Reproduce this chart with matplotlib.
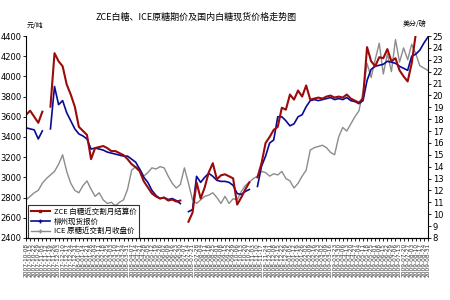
import matplotlib
matplotlib.use("Agg")
import matplotlib.pyplot as plt
from matplotlib.lines import Line2D
import numpy as np
import pandas as pd

plt.rcParams["font.family"] = ["Noto Sans CJK SC", "DejaVu Sans"]

nan = np.nan

# weekly samples, Oct 2007 - Aug 2009
dates = pd.date_range("2007-10-08", periods=100, freq="W-MON")
date_labels = [d.strftime("%Y-%m-%d") for d in dates]

zce_settle = [
    3620, 3660, 3600, 3540, 3650, nan, 3700, 4230, 4150, 4100,
    3920, 3820, 3700, 3500, 3460, 3420, 3180, 3290, 3300, 3310,
    3290, 3260, 3260, 3240, 3220, 3180, 3130, 3100, 3060, 2960,
    2900, 2840, 2810, 2790, 2800, 2770, 2780, 2760, 2770, nan,
    2560, 2650, 2950, 2790, 2900, 3050, 3140, 2980, 3020, 3030,
    3010, 2990, 2730, 2800, 2880, 2950, nan, 3000, 3140, 3340,
    3400, 3470, 3500, 3690, 3670, 3820, 3770, 3860, 3800, 3910,
    3770, 3780, 3790, 3780, 3800, 3810, 3790, 3800, 3790, 3820,
    3780, 3760, 3740, 3780, 4290, 4150, 4100, 4190, 4180, 4270,
    4150, 4180, 4060, 4000, 3950, 4130, 4420, nan, 4430, nan,
]

liuzhou_spot = [
    3490, 3480, 3470, 3380, 3460, nan, 3480, 3900, 3720, 3760,
    3640, 3560, 3480, 3430, 3410, 3380, 3280, 3290, 3280, 3270,
    3250, 3240, 3230, 3220, 3210, 3210, 3180, 3150, 3080, 3000,
    2950, 2870, 2820, 2790, 2800, 2780, 2790, 2770, 2740, nan,
    2660, 2680, 3010, 2950, 3000, 3040, 3010, 2970, 2960, 2960,
    2950, 2920, 2840, 2830, 2860, 2880, nan, 2910, 3110, 3210,
    3340, 3370, 3600, 3600, 3560, 3510, 3530, 3600, 3620, 3700,
    3760, 3770, 3760, 3770, 3780, 3790, 3770, 3780, 3770, 3790,
    3760, 3750, 3730, 3760, 3960, 4070, 4100, 4110, 4120, 4150,
    4140, 4130, 4100, 4080, 4060, 4200, 4220, 4260, 4330, 4390,
]

ice_close = [
    11.2, 11.5, 11.8, 12.0, 12.6, 13.0, 13.3, 13.6, 14.2, 15.0,
    13.6, 12.6, 12.0, 11.8, 12.4, 12.8, 12.1, 11.5, 11.8, 11.2,
    10.9, 11.0, 10.7, 11.0, 11.2, 12.1, 13.7, 14.0, 13.8, 13.2,
    13.5, 13.9, 13.8, 14.0, 13.9, 13.2, 12.6, 12.2, 12.5, 13.9,
    12.6, 11.2, 10.9, 11.2, 11.5, 11.6, 11.8, 11.4, 10.9, 11.5,
    10.9, 11.3, 11.2, 11.9, 12.4, 12.7, 13.0, 13.2, 13.6, 13.5,
    13.2, 13.4, 13.3, 13.6, 13.0, 12.8, 12.2, 12.6, 13.2, 13.7,
    15.4, 15.6, 15.7, 15.8, 15.6, 15.2, 15.0, 16.5, 17.3, 17.0,
    17.6, 18.2, 18.7, 20.3, 22.7, 21.5, 23.0, 24.4, 21.8, 23.5,
    22.0, 24.7, 22.8, 24.0, 23.0, 24.3, 23.5, 22.5, 22.3, 22.1,
]

series_names = ["ZCE 白糖近交割月结算价", "柳州现货报价", "ICE 原糖近交割月收盘价"]
title = "ZCE白糖、ICE原糖期价及国内白糖现货价格走势图"

red = "#9b0a0a"
blue = "#0a0a96"
gray = "#8c8c8c"
narrow = ["Liberation Sans Narrow", "DejaVu Sans"]

fig = plt.figure(figsize=(4.5, 3.0), dpi=100)
ax = fig.add_axes([0.058, 0.207, 0.893, 0.673])
ax2 = ax.twinx()

x = np.arange(len(dates))
ax2.plot(x, ice_close, color=gray, lw=1.0)
ax.plot(x, liuzhou_spot, color=blue, lw=1.2)
ax.plot(x, zce_settle, color=red, lw=1.5)
ax.set_zorder(ax2.get_zorder() + 1)
ax.patch.set_visible(False)

ax.set_xlim(0, len(dates) - 1)
ax.set_ylim(2400, 4400)
ax2.set_ylim(8, 25)
ax.set_yticks(np.arange(2400, 4401, 200))
ax2.set_yticks(np.arange(8, 26, 1))

ax.set_xticks(x)
ax.set_xticklabels(date_labels, rotation=90, fontsize=4.2, family="DejaVu Sans",
                   color="#333333")
for a in (ax, ax2):
    a.spines["top"].set_visible(False)
    a.tick_params(axis="both", length=2, width=0.6, pad=1.5)
    for s in a.spines.values():
        s.set_linewidth(0.8)
ax2.spines["left"].set_visible(False)
ax.spines["right"].set_visible(False)
for lab in ax.get_yticklabels() + ax2.get_yticklabels():
    lab.set_fontsize(6)
    lab.set_family(narrow)

fig.text(0.435, 0.943, title, fontsize=6.5, ha="center", va="center")
fig.text(0.078, 0.913, "元/吨", fontsize=5, ha="center", va="center")
fig.text(0.922, 0.92, "美分/磅", fontsize=5, ha="center", va="center")

handles = [
    Line2D([], [], color=red, lw=1.5, marker="s", markersize=2),
    Line2D([], [], color=blue, lw=1.2, marker="+", markersize=3),
    Line2D([], [], color=gray, lw=1.0, marker="+", markersize=3),
]
leg = ax.legend(handles, series_names, loc="lower left", bbox_to_anchor=(0.005, 0.0),
                fontsize=5.4, frameon=True, fancybox=False, edgecolor="black",
                handlelength=2.6, handletextpad=0.5, labelspacing=0.25,
                borderpad=0.35, borderaxespad=0.0)
leg.get_frame().set_linewidth(0.8)

fig.savefig("out.png", dpi=100)
